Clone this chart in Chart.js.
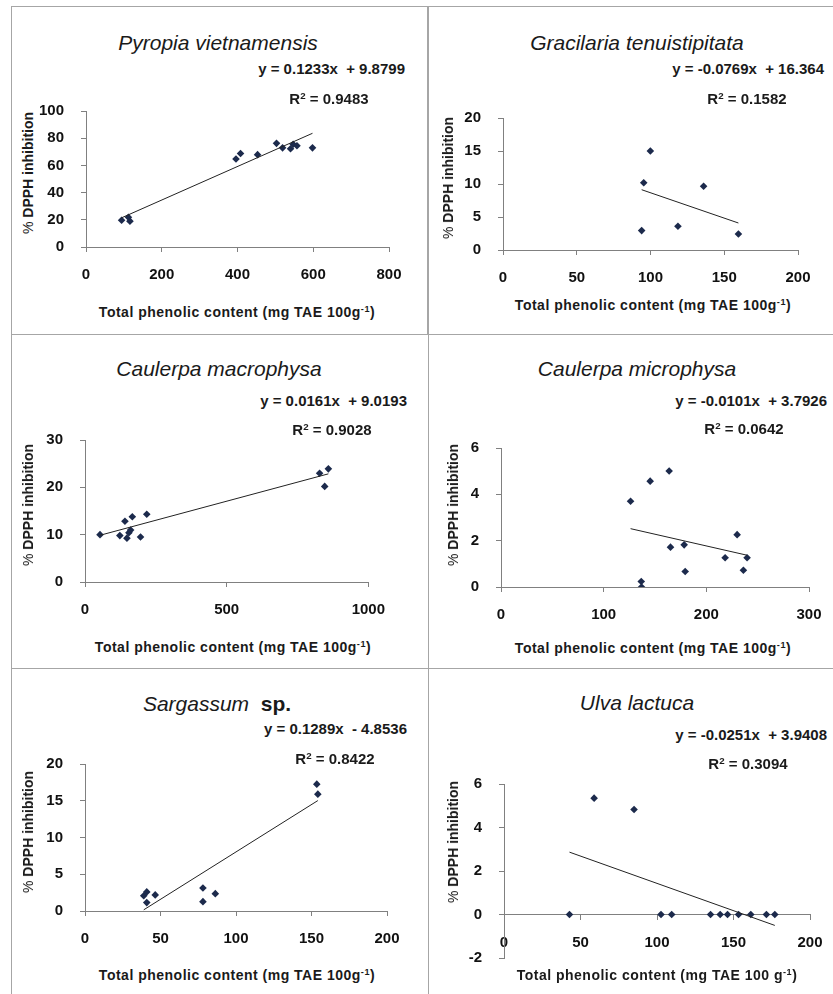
<!DOCTYPE html>
<html>
<head>
<meta charset="utf-8">
<script src="https://cdn.jsdelivr.net/npm/chart.js@4"></script>
<style>
  body { margin: 0; background: #fff; }
  #page { position: relative; width: 833px; height: 994px; overflow: hidden; background: #fff; font-family: "Liberation Sans", Arial, sans-serif; color: #1a1a1a; }
  canvas { position: absolute; }
  .line { position: absolute; background: #a6a6a6; }
  .txt { position: absolute; white-space: nowrap; line-height: 1; }
  .title { font-size: 21px; font-style: italic; }
  .eq { font-size: 15px; font-weight: bold; }
  .axt { font-size: 14px; font-weight: bold; }
  .axt .pc { font-weight: normal; }
  .xt { letter-spacing: 0.5px; }
  sup { font-size: 65%; vertical-align: 0.5em; line-height: 0; }
</style>
</head>
<body>
<div id="page"></div>
<script>
// Values (x = total phenolic content, y = % DPPH inhibition)
const pyropiaX = [94, 112, 116, 396, 408, 453, 503, 519, 540, 547, 557, 598];
const pyropiaY = [19.7, 21.9, 19.0, 64.7, 68.8, 67.9, 76.2, 72.9, 72.2, 75.6, 74.4, 72.9];
const pyropiaFit = [0.1233, 9.8799];

const gracilariaX = [94, 95.4, 99.9, 118.6, 136, 159.6];
const gracilariaY = [2.94, 10.2, 15.0, 3.6, 9.67, 2.43];
const gracilariaFit = [-0.0769, 16.364];

const macroX = [53, 123, 141, 148, 155, 161, 167, 196, 218, 828, 846, 859];
const macroY = [10.0, 9.8, 12.85, 9.26, 10.4, 10.96, 13.8, 9.5, 14.3, 22.96, 20.2, 23.9];
const macroFit = [0.0161, 9.0193];

const microX = [126.2, 136.6, 136.9, 145.3, 163.8, 165.1, 178.4, 179.4, 218.3, 230, 236.1, 239.7];
const microY = [3.70, 0.24, 0.0, 4.57, 5.01, 1.72, 1.82, 0.67, 1.26, 2.26, 0.72, 1.26];
const microFit = [-0.0101, 3.7926];

const sargassumX = [38.9, 40.9, 40.9, 46.5, 78.1, 78.1, 86.3, 153.5, 154.2];
const sargassumY = [2.07, 2.6, 1.14, 2.19, 3.12, 1.27, 2.36, 17.26, 15.9];
const sargassumFit = [0.1289, -4.8536];

const ulvaX = [42.8, 58.9, 85, 102.6, 109.6, 135, 141.3, 146.1, 153.3, 161.3, 171.5, 177];
const ulvaY = [0, 5.35, 4.83, 0, 0, 0, 0, 0, 0, 0, 0, 0];
const ulvaFit = [-0.0251, 3.9408];

// axis ranges: [min, max, step]
const pyropiaXTicks = [0, 800, 200], pyropiaYTicks = [0, 100, 20];
const gracilariaXTicks = [0, 200, 50], gracilariaYTicks = [0, 20, 5];
const macroXTicks = [0, 1000, 500], macroYTicks = [0, 30, 10];
const microXTicks = [0, 300, 100], microYTicks = [0, 6, 2];
const sargassumXTicks = [0, 200, 50], sargassumYTicks = [0, 20, 5];
const ulvaXTicks = [0, 200, 50], ulvaYTicks = [-2, 6, 2];

const yTitle = '<span class="pc">%</span> DPPH inhibition';
const xTitle = 'Total phenolic content (mg TAE 100g<sup>-1</sup>)';
const xTitleUlva = 'Total phenolic content (mg TAE 100 g<sup>-1</sup>)';

const page = document.getElementById('page');

// frame lines
function addLine(x, y, w, h) {
  const d = document.createElement('div');
  d.className = 'line';
  Object.assign(d.style, { left: x + 'px', top: y + 'px', width: w + 'px', height: h + 'px' });
  page.appendChild(d);
}
addLine(11, 6, 822, 1);
addLine(11, 6, 1, 988);
addLine(427, 6, 2, 328);
addLine(428, 334, 1, 660);
addLine(11, 334, 822, 1);
addLine(11, 668, 822, 1);

function addText(html, cls, x, y, anchor, rotate) {
  const d = document.createElement('div');
  d.className = 'txt ' + cls;
  d.innerHTML = html;
  d.style.left = x + 'px';
  d.style.top = y + 'px';
  let tf = anchor === 'right' ? 'translate(-100%,-50%)' : 'translate(-50%,-50%)';
  if (rotate) tf += ' rotate(-90deg)';
  d.style.transform = tf;
  page.appendChild(d);
}

const panels = [
  { x: pyropiaX, y: pyropiaY, fit: pyropiaFit, xt: pyropiaXTicks, yt: pyropiaYTicks,
    area: [86, 100, 389, 247], title: '<i>Pyropia vietnamensis</i>', tx: 218, ty: 42,
    eq: 'y = 0.1233x &nbsp;+ 9.8799', ex: 405, ey: 68, r2: 'R<sup>2</sup> = 0.9483', rx: 329, ry: 98,
    yx: 28, yy: 173, xx: 237, xy: 312, xl: xTitle },
  { x: gracilariaX, y: gracilariaY, fit: gracilariaFit, xt: gracilariaXTicks, yt: gracilariaYTicks,
    area: [503, 107, 798, 250], title: '<i>Gracilaria tenuistipitata</i>', tx: 637, ty: 42,
    eq: 'y = -0.0769x &nbsp;+ 16.364', ex: 824, ey: 68, r2: 'R<sup>2</sup> = 0.1582', rx: 747, ry: 98,
    yx: 448, yy: 178, xx: 653, xy: 305, xl: xTitle },
  { x: macroX, y: macroY, fit: macroFit, xt: macroXTicks, yt: macroYTicks,
    area: [85, 429, 369, 582], title: '<i>Caulerpa macrophysa</i>', tx: 219, ty: 368,
    eq: 'y = 0.0161x &nbsp;+ 9.0193', ex: 407, ey: 400, r2: 'R<sup>2</sup> = 0.9028', rx: 332, ry: 429,
    yx: 28, yy: 505, xx: 233, xy: 647, xl: xTitle },
  { x: microX, y: microY, fit: microFit, xt: microXTicks, yt: microYTicks,
    area: [501, 437, 809, 587], title: '<i>Caulerpa microphysa</i>', tx: 637, ty: 368,
    eq: 'y = -0.0101x &nbsp;+ 3.7926', ex: 827, ey: 400, r2: 'R<sup>2</sup> = 0.0642', rx: 744, ry: 428,
    yx: 453, yy: 505, xx: 653, xy: 648, xl: xTitle },
  { x: sargassumX, y: sargassumY, fit: sargassumFit, xt: sargassumXTicks, yt: sargassumYTicks,
    area: [85, 753, 387, 911], title: '<i>Sargassum</i>&nbsp; <b style="font-style:normal">sp.</b>', tx: 217, ty: 703,
    eq: 'y = 0.1289x &nbsp;- 4.8536', ex: 407, ey: 728, r2: 'R<sup>2</sup> = 0.8422', rx: 335, ry: 758,
    yx: 28, yy: 832, xx: 237, xy: 975, xl: xTitle },
  { x: ulvaX, y: ulvaY, fit: ulvaFit, xt: ulvaXTicks, yt: ulvaYTicks,
    area: [504, 773, 810, 958], title: '<i>Ulva lactuca</i>', tx: 637, ty: 702,
    eq: 'y = -0.0251x &nbsp;+ 3.9408', ex: 827, ey: 734, r2: 'R<sup>2</sup> = 0.3094', rx: 748, ry: 763,
    yx: 453, yy: 842, xx: 657, xy: 975, xl: xTitleUlva, axisAtZero: true }
];

const axisGray = '#808080';
const tickFont = { family: '"Liberation Sans", Arial, sans-serif', size: 15, weight: 'bold' };
const plain = v => String(v);

panels.forEach(p => {
  const yW = 50, padTop = 15, padRight = 30, xH = 40;
  const [l, t, r, b] = p.area;
  const cv = document.createElement('canvas');
  const left = l - yW, top = t - padTop;
  const w = r + padRight - left, h = b + xH - top;
  cv.width = w; cv.height = h;
  cv.style.left = left + 'px'; cv.style.top = top + 'px';
  cv.style.width = w + 'px'; cv.style.height = h + 'px';
  page.appendChild(cv);

  const pts = p.x.map((v, i) => ({ x: v, y: p.y[i] }));
  const x0 = Math.min(...p.x), x1 = Math.max(...p.x);
  const fitPts = [{ x: x0, y: p.fit[0] * x0 + p.fit[1] }, { x: x1, y: p.fit[0] * x1 + p.fit[1] }];

  new Chart(cv, {
    type: 'scatter',
    data: {
      datasets: [
        { data: fitPts, type: 'line', showLine: true, borderColor: '#222', borderWidth: 1, pointRadius: 0, fill: false },
        { data: pts, pointStyle: 'rectRot', pointRadius: 3.8, backgroundColor: '#1c2a4c', borderColor: '#1c2a4c', borderWidth: 0 }
      ]
    },
    options: {
      responsive: false,
      animation: false,
      layout: { padding: { top: padTop, right: padRight, left: 0, bottom: p.axisAtZero ? xH : 0 } },
      plugins: { legend: { display: false }, tooltip: { enabled: false } },
      scales: {
        x: {
          type: 'linear',
          position: p.axisAtZero ? { y: 0 } : 'bottom',
          min: p.xt[0], max: p.xt[1],
          ticks: { stepSize: p.xt[2], color: '#111', font: tickFont, padding: 14, maxRotation: 0, callback: plain },
          grid: { drawOnChartArea: false, drawTicks: true, tickLength: 5, color: axisGray },
          border: { color: axisGray },
          afterFit: s => { s.height = xH; }
        },
        y: {
          type: 'linear',
          min: p.yt[0], max: p.yt[1],
          ticks: { stepSize: p.yt[2], color: '#111', font: tickFont, padding: 17, callback: plain },
          grid: { drawOnChartArea: false, drawTicks: true, tickLength: 5, color: axisGray },
          border: { color: axisGray },
          afterFit: s => { s.width = yW; }
        }
      }
    }
  });

  addText(p.title, 'title', p.tx, p.ty, 'center');
  addText(p.eq, 'eq', p.ex, p.ey, 'right');
  addText(p.r2, 'eq', p.rx, p.ry, 'center');
  addText(yTitle, 'axt', p.yx, p.yy, 'center', true);
  addText(p.xl, 'axt xt', p.xx, p.xy, 'center');
});
</script>
</body>
</html>
